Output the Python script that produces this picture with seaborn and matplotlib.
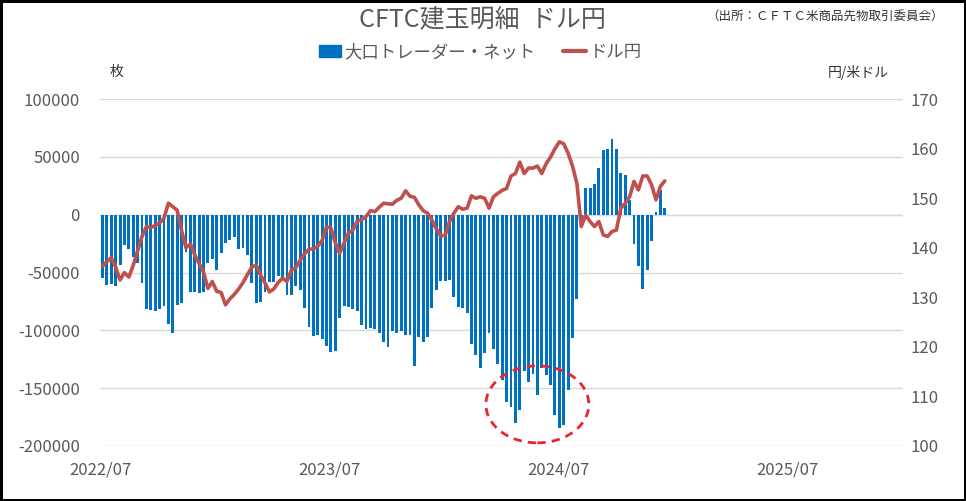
import matplotlib
matplotlib.use("Agg")
import matplotlib.pyplot as plt
import matplotlib.dates as mdates
from matplotlib.patches import Ellipse, Patch
from matplotlib.lines import Line2D
import seaborn as sns
import pandas as pd

# --- data (weekly, CFTC Tuesday reports) ---
start_date = "2022-07-05"
n_weeks = 129

# large traders net position (contracts)
net_positions = [
    -54900, -60700, -60100, -61600, -43400, -26000, -29800, -36100, -41900, -59200,
    -81500, -82400, -83200, -81800, -78600, -94500, -102600, -78000, -76600, -31800,
    -66500, -66500, -67900, -66500, -41900, -38400, -47700, -32700, -24000, -21700,
    -19400, -29800, -28300, -34700, -59200, -76000, -75100, -66500, -58400, -57800,
    -52600, -56400, -69400, -69400, -61600, -65000, -80900, -96800, -104600, -104000,
    -107800, -113300, -118500, -117900, -89600, -78900, -79500, -81500, -83200, -95400,
    -98800, -97700, -98800, -102000, -109800, -114200,
    -100300, -102600, -100600, -104000, -104000, -130600, -105500, -109800, -105500, -80900,
    -65000, -56900, -57200, -56400, -70800, -80100, -80900, -85300, -111800, -121400,
    -132900, -119400, -102600, -116200, -129200, -143100, -161800, -166200, -180100, -168500,
    -135000, -144500, -137900, -156100, -132900, -138700, -147400, -173400, -184400, -182100,
    -151700, -106900, -73100,
    -10000,
    23400, 23400, 26300, 40900, 55800, 56600, 66000, 56600, 36500, 34000,
    13000, -25100, -44500, -64600, -47400, -23000, 2400, 21500, 6000,
]

# USD/JPY
usdjpy = [
    136.3, 137.2, 138.0, 136.1, 133.5, 135.0, 134.1, 136.5, 139.4, 142.3,
    144.3, 144.1, 144.5, 145.0, 146.0, 149.0, 148.3, 147.6, 143.5, 140.0,
    140.8, 138.6, 136.8, 135.1, 131.8, 133.2, 131.2, 131.0, 128.5, 129.7,
    130.6, 131.7, 133.0, 134.6, 136.1, 136.5, 134.5, 132.9, 131.1, 131.7,
    133.0, 133.9, 133.2, 135.5, 136.0, 137.5, 138.8, 139.7, 139.8, 140.3,
    141.5, 144.2, 144.0, 141.0, 138.9, 141.0, 143.0, 143.6, 145.4, 145.7,
    146.3, 147.5, 147.3, 148.2, 149.0, 148.9, 148.8, 149.6, 150.0, 151.5,
    150.4, 150.2, 148.7, 147.5, 147.0, 145.6, 143.8, 142.4, 142.5, 145.3,
    147.0, 148.3, 147.8, 148.0, 150.5, 150.0, 150.3, 150.0, 148.0, 150.3,
    151.0, 151.6, 152.0, 154.5, 155.0, 157.3, 155.0, 156.1, 156.1, 156.5,
    155.0, 157.0, 158.3, 160.0, 161.4, 161.0, 159.1, 156.5, 153.0, 144.3,
    146.6, 145.3, 144.3, 145.3, 142.6, 142.3, 143.3, 143.6, 148.0, 149.0,
    150.3, 153.4, 151.7, 154.5, 154.5, 152.7, 149.7, 152.4, 153.5,
]

left_ticks = [-200000, -150000, -100000, -50000, 0, 50000, 100000]
right_ticks = [100, 110, 120, 130, 140, 150, 160, 170]
x_tick_dates = ["2022-07-01", "2023-07-01", "2024-07-01", "2025-07-01"]
x_tick_labels = ["2022/07", "2023/07", "2024/07", "2025/07"]
x_range = ["2022-07-01", "2026-01-01"]

# highlighted area (dashed circle)
circle_center_date = "2024-05-28"
circle_center_value = -164000
circle_width_days = 164
circle_height_value = 66600

bar_color = "#0070C0"
line_color = "#C0504D"
text_color = "#595959"
grid_color = "#D9D9D9"

df = pd.DataFrame({
    "date": pd.date_range(start_date, periods=n_weeks, freq="7D"),
    "net": net_positions,
    "usdjpy": usdjpy,
})

sns.set_theme(style="white")
plt.rcParams["font.family"] = ["Noto Sans CJK JP", "DejaVu Sans"]

fig = plt.figure(figsize=(9.66, 5.01), dpi=100)
ax = fig.add_axes([0.1035, 0.1098, 0.8315, 0.6922])
ax2 = ax.twinx()

# bars on left axis
ax.bar(df["date"], df["net"], width=4.6, color=bar_color, linewidth=0, zorder=2)

# line on right axis
sns.lineplot(data=df, x="date", y="usdjpy", ax=ax2, color=line_color,
             linewidth=2.6, zorder=3)

ax.set_ylim(-200000, 100000)
ax.set_yticks(left_ticks)
ax.set_yticklabels([str(v) for v in left_ticks])
ax2.set_ylim(100, 170)
ax2.set_yticks(right_ticks)
ax2.set_yticklabels([str(v) for v in right_ticks])

ax.set_xlim(pd.to_datetime(x_range[0]), pd.to_datetime(x_range[1]))
ax.set_xticks(pd.to_datetime(x_tick_dates))
ax.set_xticklabels(x_tick_labels)

ax.grid(axis="y", color=grid_color, linewidth=1.0, zorder=0)
ax.set_axisbelow(True)
ax.axhline(0, color=grid_color, linewidth=1.0, zorder=1)
for a in (ax, ax2):
    for s in a.spines.values():
        s.set_visible(False)
    a.set_xlabel("")
    a.set_ylabel("")
    a.tick_params(length=0, colors=text_color, labelsize=12)
ax.tick_params(axis="y", pad=14.5)
ax.tick_params(axis="x", pad=11)
ax2.tick_params(axis="y", pad=5)

# put line above bars
ax.set_zorder(ax2.get_zorder() - 1)
ax2.patch.set_visible(False)

ell = Ellipse((mdates.date2num(pd.to_datetime(circle_center_date)), circle_center_value),
              width=circle_width_days, height=circle_height_value,
              fill=False, edgecolor="#E8262B", linestyle=(0, (3, 2.2)),
              linewidth=2.0, zorder=5, clip_on=False)
ax.add_patch(ell)

# texts
fig.text(0.499, 0.962, "CFTC建玉明細  ドル円", ha="center", va="center",
         fontsize=18, color=text_color)
fig.text(0.731, 0.968, "（出所：ＣＦＴＣ米商品先物取引委員会）", ha="left", va="center",
         fontsize=9, color="#333333")
fig.text(0.121, 0.856, "枚", ha="center", va="center", fontsize=10, color="#333333")
fig.text(0.888, 0.856, "円/米ドル", ha="center", va="center", fontsize=10, color="#333333")

handles = [Patch(facecolor=bar_color, edgecolor=bar_color),
           Line2D([0], [0], color=line_color, linewidth=3)]
fig.legend(handles, ["大口トレーダー・ネット", "ドル円"], loc="center",
           bbox_to_anchor=(0.497, 0.896), ncol=2, frameon=False, fontsize=12.5,
           labelcolor=text_color, handlelength=1.3, handletextpad=0.2,
           columnspacing=1.6)

# outer frame
fig.patch.set_edgecolor("black")
fig.patch.set_linewidth(2.5)

fig.savefig("out.png", dpi=100, edgecolor=fig.get_edgecolor())
